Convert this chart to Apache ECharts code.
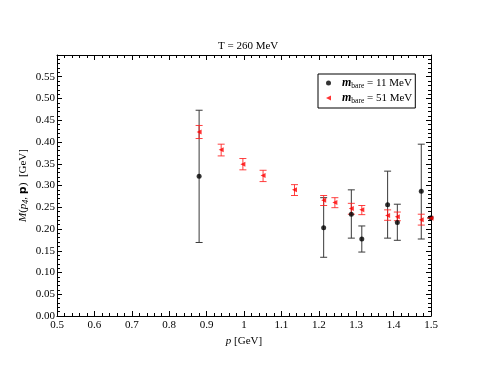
<!DOCTYPE html>
<html>
<head>
<meta charset="utf-8">
<script src="https://cdn.jsdelivr.net/npm/echarts@6/dist/echarts.min.js"></script>
<style>
  html, body { margin: 0; padding: 0; background: #fff; }
  #chart { width: 485px; height: 374px; }
</style>
</head>
<body>
<div id="chart"></div>
<script>
// m_bare = 11 MeV (black)
var blackP = [0.88, 1.213, 1.287, 1.315, 1.384, 1.41, 1.474, 1.5];
var blackM = [0.321, 0.203, 0.234, 0.177, 0.256, 0.215, 0.287, 0.226];
var blackLo = [0.169, 0.135, 0.179, 0.147, 0.179, 0.174, 0.177, 0.226];
var blackHi = [0.473, 0.272, 0.290, 0.207, 0.333, 0.257, 0.395, 0.226];

// m_bare = 51 MeV (red)
var redP = [0.88, 0.939, 0.997, 1.051, 1.135, 1.213, 1.243, 1.287, 1.315, 1.384, 1.41, 1.474, 1.5];
var redM = [0.423, 0.382, 0.349, 0.323, 0.290, 0.266, 0.261, 0.247, 0.244, 0.231, 0.228, 0.221, 0.225];
var redLo = [0.408, 0.368, 0.336, 0.309, 0.277, 0.254, 0.249, 0.234, 0.233, 0.220, 0.219, 0.209, 0.225];
var redHi = [0.438, 0.395, 0.362, 0.335, 0.302, 0.277, 0.272, 0.259, 0.254, 0.244, 0.239, 0.234, 0.225];

var seriesNames = ["m_bare = 11 MeV", "m_bare = 51 MeV"];
var legendText = {
  "m_bare = 11 MeV": "{m|m}{sub|bare}{t| = 11 MeV}",
  "m_bare = 51 MeV": "{m|m}{sub|bare}{t| = 51 MeV}"
};

var font = "Liberation Serif";
var leftTriangle = "path://M0,5L10,0L10,10Z";

function pts(xs, ys) {
  return xs.map(function (x, i) { return [x, ys[i]]; });
}
function bars(xs, lo, hi) {
  return xs.map(function (x, i) { return [x, lo[i], hi[i]]; });
}

function errorBar(color) {
  return function (params, api) {
    var top = api.coord([api.value(0), api.value(2)]);
    var bot = api.coord([api.value(0), api.value(1)]);
    var w = 3.5;
    var style = { stroke: color, lineWidth: 1 };
    return {
      type: "group",
      children: [
        { type: "line", shape: { x1: top[0], y1: top[1], x2: bot[0], y2: bot[1] }, style: style },
        { type: "line", shape: { x1: top[0] - w, y1: top[1], x2: top[0] + w, y2: top[1] }, style: style },
        { type: "line", shape: { x1: bot[0] - w, y1: bot[1], x2: bot[0] + w, y2: bot[1] }, style: style }
      ]
    };
  };
}

var axisCommon = {
  axisLine: { onZero: false, lineStyle: { color: "#000", width: 1 } },
  axisTick: { inside: true, length: 5, lineStyle: { color: "#000" } },
  minorTick: { show: true, splitNumber: 5, length: 3, lineStyle: { color: "#000" } },
  splitLine: { show: false }
};

var myChart = echarts.init(document.getElementById("chart"));
myChart.setOption({
  animation: false,
  backgroundColor: "#fff",
  textStyle: { fontFamily: font, color: "#000" },
  title: {
    text: "T = 260 MeV",
    left: 213,
    top: 36,
    textStyle: { fontFamily: font, fontSize: 11, fontWeight: "normal", color: "#000" }
  },
  legend: {
    data: [
      { name: seriesNames[0], icon: "circle" },
      { name: seriesNames[1], icon: leftTriangle }
    ],
    orient: "vertical",
    left: 318,
    top: 74,
    padding: [3, 3, 3, 8],
    itemGap: 2,
    itemWidth: 5,
    itemHeight: 5,
    borderColor: "#000",
    borderWidth: 1,
    borderRadius: 0,
    formatter: function (name) { return legendText[name]; },
    textStyle: {
      fontFamily: font,
      color: "#000",
      padding: [0, 0, 0, 6],
      rich: {
        m: { fontFamily: font, fontSize: 12, fontWeight: "bold", fontStyle: "italic" },
        sub: { fontFamily: font, fontSize: 7.5, padding: [6, 0, 0, 0] },
        t: { fontFamily: font, fontSize: 11 }
      }
    }
  },
  grid: { left: 57, right: 54, top: 55, bottom: 58 },
  xAxis: [
    Object.assign({}, axisCommon, {
      type: "value",
      min: 0.5,
      max: 1.5,
      interval: 0.1,
      name: "{i|p} [GeV]",
      nameLocation: "middle",
      nameGap: 19,
      nameTextStyle: {
        fontFamily: font, fontSize: 11, color: "#000",
        rich: { i: { fontFamily: font, fontSize: 11, fontStyle: "italic" } }
      },
      axisLabel: { fontFamily: font, fontSize: 11, color: "#000", margin: 4 }
    }),
    Object.assign({}, axisCommon, {
      type: "value",
      position: "top",
      min: 0.5,
      max: 1.5,
      interval: 0.1,
      axisLabel: { show: false }
    })
  ],
  yAxis: [
    Object.assign({}, axisCommon, {
      type: "value",
      min: 0,
      max: 0.6,
      interval: 0.05,
      name: "{i|M}{t|(}{i|p}{s|4}{t|, }{b|p}{t|)  [GeV]}",
      nameLocation: "middle",
      nameGap: 27,
      nameMoveOverlap: false,
      nameTextStyle: {
        fontFamily: font, fontSize: 11, color: "#000",
        rich: {
          i: { fontFamily: font, fontSize: 11, fontStyle: "italic" },
          t: { fontFamily: font, fontSize: 11 },
          s: { fontFamily: font, fontSize: 8, fontStyle: "italic", padding: [5, 0, 0, 0] },
          b: { fontFamily: "DejaVu Sans", fontSize: 11, fontWeight: "bold" }
        }
      },
      axisLabel: {
        fontFamily: font, fontSize: 11, color: "#000", margin: 2,
        formatter: function (v) { return v > 0.58 ? "" : v.toFixed(2); }
      }
    }),
    Object.assign({}, axisCommon, {
      type: "value",
      position: "right",
      min: 0,
      max: 0.6,
      interval: 0.05,
      axisLabel: { show: false }
    })
  ],
  series: [
    {
      name: seriesNames[0] + " err",
      type: "custom",
      renderItem: errorBar("#3a3a3a"),
      data: bars(blackP, blackLo, blackHi),
      clip: true,
      silent: true,
      z: 1
    },
    {
      name: seriesNames[1] + " err",
      type: "custom",
      renderItem: errorBar("rgba(255,30,30,0.85)"),
      data: bars(redP, redLo, redHi),
      clip: true,
      silent: true,
      z: 2
    },
    {
      name: seriesNames[0],
      type: "scatter",
      symbol: "circle",
      symbolSize: 5,
      itemStyle: { color: "#000" },
      data: pts(blackP, blackM),
      z: 3
    },
    {
      name: seriesNames[1],
      type: "scatter",
      symbol: leftTriangle,
      symbolSize: 5,
      itemStyle: { color: "#ff0000" },
      data: pts(redP, redM),
      z: 4
    }
  ]
});
window.addEventListener("resize", function () {
  myChart.resize();
});
</script>
</body>
</html>
